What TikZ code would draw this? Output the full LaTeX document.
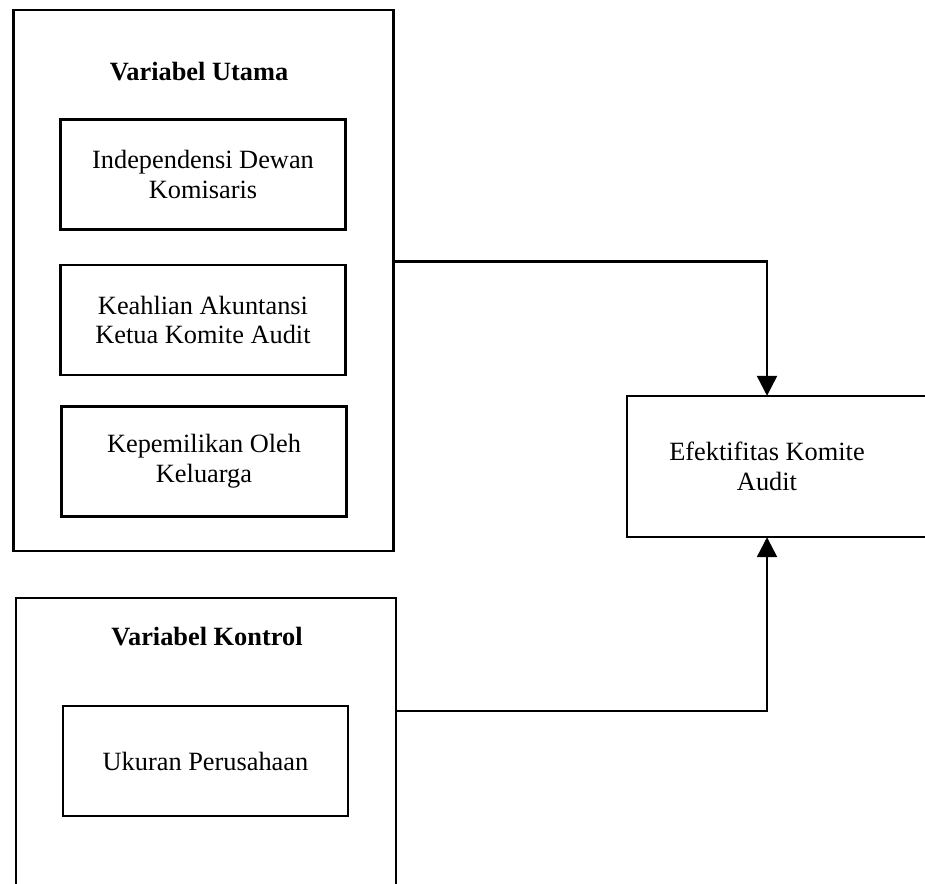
\documentclass[tikz,border=0pt]{standalone}
\usepackage{fontspec}
\setmainfont{Liberation Serif}
\usetikzlibrary{arrows.meta}
\begin{document}
\begin{tikzpicture}[
					x = 0.02cm, y = -0.02cm,
					line width = 1.4pt,
					every node/.style = {font = \fontsize{15}{17}\selectfont, align = center},
					groupbox/.style = {draw, minimum width = 7.6cm},
					varbox/.style = {draw, minimum width = 5.7cm, minimum height = 2.2cm},
					grouptitle/.style = {font = \fontsize{15}{17}\selectfont\bfseries},
					link/.style = {-{Triangle[length = 4mm, width = 4mm]}}]

					\path[use as bounding box, clip] (0,0) rectangle (925,884);

					\node[groupbox, minimum height = 10.82cm](utama) at (203.5,280.5){};
					\node[grouptitle](utamatitle) at (199,72){Variabel Utama};
					\node[varbox](indep) at (203,174.5){Independensi Dewan\\Komisaris};
					\node[varbox](ahli) at (203,320){Keahlian Akuntansi\\Ketua Komite Audit};
					\node[varbox](milik) at (204,461.5){Kepemilikan Oleh\\Keluarga};

					\node[groupbox, minimum height = 6.04cm](kontrol) at (206,749){};
					\node[grouptitle](kontroltitle) at (207,637){Variabel Kontrol};
					\node[varbox](ukuran) at (205.5,761){Ukuran Perusahaan};

					\node[minimum width = 5.56cm, minimum height = 2.78cm](efek) at (767,466.5){Efektifitas Komite\\Audit};
					\draw (efek.north west) ++(320,0) -- (efek.north west) -- (efek.south west) -- ++(320,0);

					\draw[link] ([yshift = 0.38cm]utama.east) -| (efek.north);
					\draw[link] ([yshift = 0.76cm]kontrol.east) -| (efek.south);

				\end{tikzpicture}
\end{document}
